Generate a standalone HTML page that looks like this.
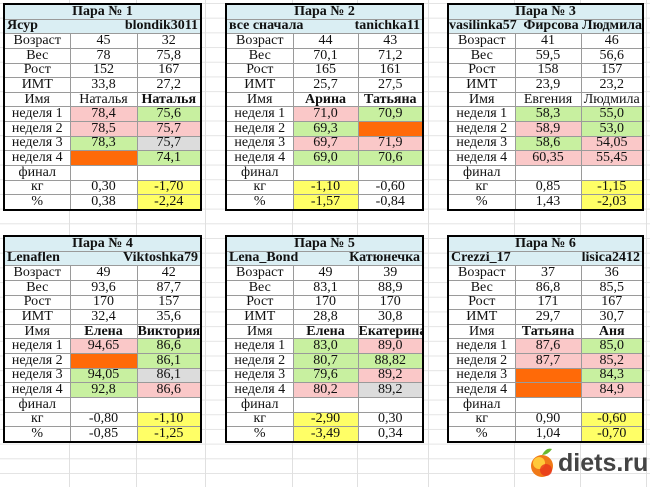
<!DOCTYPE html>
<html><head><meta charset="utf-8"><style>
body{margin:0;width:650px;height:487px;background:#fff;position:relative;overflow:hidden;font-family:"Liberation Serif","DejaVu Serif",serif;}
.grid{position:absolute;inset:0;background-image:linear-gradient(#e4e4e4 1px,transparent 1px);background-size:100% 14.7px;background-position:0 3px}
.vl{position:absolute;top:0;bottom:0;width:1px;background:#e0e0e0}
table{position:absolute;border-collapse:collapse;table-layout:fixed;border:2px solid #000;background:#fff;font-size:14px;line-height:12px;color:#111}
td{border:1px solid #9a9a9a;text-align:center;padding:0;height:12.8px;white-space:nowrap;overflow:hidden}
td.h{background:#daeef3;font-weight:bold;border-color:#9a9a9a}
td.n{background:#daeef3;font-weight:bold;text-align:left;padding:0 2px}
td.n span{float:right}
.b{font-weight:bold}
.p{background:#fac8c8}.g{background:#c8f0a0}.o{background:#ff6a08}.s{background:#dcdcdc}.y{background:#ffff66}
.logo{position:absolute;left:528px;top:448px;font-family:"Liberation Sans",sans-serif;font-size:25px;color:#444;font-weight:bold}
</style></head><body>
<div class="grid"></div>
<div class="vl" style="left:69px"></div><div class="vl" style="left:136px"></div><div class="vl" style="left:205px"></div>
<div class="vl" style="left:292px"></div><div class="vl" style="left:357px"></div><div class="vl" style="left:428px"></div>
<div class="vl" style="left:514px"></div><div class="vl" style="left:580px"></div><div class="vl" style="left:646px"></div>

<table style="left:3px;top:3px;width:199px;height:208px"><colgroup><col style="width:66px"><col style="width:67px"><col></colgroup>
<tr><td class="h" colspan="3">Пара № 1</td></tr>
<tr><td class="n" colspan="3">Ясур<span>blondik3011</span></td></tr>
<tr><td>Возраст</td><td>45</td><td>32</td></tr>
<tr><td>Вес</td><td>78</td><td>75,8</td></tr>
<tr><td>Рост</td><td>152</td><td>167</td></tr>
<tr><td>ИМТ</td><td>33,8</td><td>27,2</td></tr>
<tr><td>Имя</td><td>Наталья</td><td class="b">Наталья</td></tr>
<tr><td>неделя 1</td><td class="p">78,4</td><td class="g">75,6</td></tr>
<tr><td>неделя 2</td><td class="p">78,5</td><td class="p">75,7</td></tr>
<tr><td>неделя 3</td><td class="g">78,3</td><td class="s">75,7</td></tr>
<tr><td>неделя 4</td><td class="o"></td><td class="g">74,1</td></tr>
<tr><td>финал</td><td></td><td></td></tr>
<tr><td>кг</td><td>0,30</td><td class="y">-1,70</td></tr>
<tr><td>%</td><td>0,38</td><td class="y">-2,24</td></tr>
</table>

<table style="left:225px;top:3px;width:199px;height:208px"><colgroup><col style="width:67px"><col style="width:65px"><col></colgroup>
<tr><td class="h" colspan="3">Пара № 2</td></tr>
<tr><td class="n" colspan="3">все сначала<span>tanichka11</span></td></tr>
<tr><td>Возраст</td><td>44</td><td>43</td></tr>
<tr><td>Вес</td><td>70,1</td><td>71,2</td></tr>
<tr><td>Рост</td><td>165</td><td>161</td></tr>
<tr><td>ИМТ</td><td>25,7</td><td>27,5</td></tr>
<tr><td>Имя</td><td class="b">Арина</td><td class="b">Татьяна</td></tr>
<tr><td>неделя 1</td><td class="p">71,0</td><td class="g">70,9</td></tr>
<tr><td>неделя 2</td><td class="g">69,3</td><td class="o"></td></tr>
<tr><td>неделя 3</td><td class="p">69,7</td><td class="p">71,9</td></tr>
<tr><td>неделя 4</td><td class="g">69,0</td><td class="g">70,6</td></tr>
<tr><td>финал</td><td></td><td></td></tr>
<tr><td>кг</td><td class="y">-1,10</td><td>-0,60</td></tr>
<tr><td>%</td><td class="y">-1,57</td><td>-0,84</td></tr>
</table>

<table style="left:447px;top:3px;width:197px;height:208px"><colgroup><col style="width:67px"><col style="width:66px"><col></colgroup>
<tr><td class="h" colspan="3">Пара № 3</td></tr>
<tr><td class="n" colspan="3" style="padding:0">vasilinka57<span>Фирсова Людмила</span></td></tr>
<tr><td>Возраст</td><td>41</td><td>46</td></tr>
<tr><td>Вес</td><td>59,5</td><td>56,6</td></tr>
<tr><td>Рост</td><td>158</td><td>157</td></tr>
<tr><td>ИМТ</td><td>23,9</td><td>23,2</td></tr>
<tr><td>Имя</td><td>Евгения</td><td>Людмила</td></tr>
<tr><td>неделя 1</td><td class="g">58,3</td><td class="g">55,0</td></tr>
<tr><td>неделя 2</td><td class="p">58,9</td><td class="g">53,0</td></tr>
<tr><td>неделя 3</td><td class="g">58,6</td><td class="p">54,05</td></tr>
<tr><td>неделя 4</td><td class="p">60,35</td><td class="p">55,45</td></tr>
<tr><td>финал</td><td></td><td></td></tr>
<tr><td>кг</td><td>0,85</td><td class="y">-1,15</td></tr>
<tr><td>%</td><td>1,43</td><td class="y">-2,03</td></tr>
</table>

<table style="left:3px;top:235px;width:199px;height:208px"><colgroup><col style="width:66px"><col style="width:67px"><col></colgroup>
<tr><td class="h" colspan="3">Пара № 4</td></tr>
<tr><td class="n" colspan="3">Lenaflen<span>Viktoshka79</span></td></tr>
<tr><td>Возраст</td><td>49</td><td>42</td></tr>
<tr><td>Вес</td><td>93,6</td><td>87,7</td></tr>
<tr><td>Рост</td><td>170</td><td>157</td></tr>
<tr><td>ИМТ</td><td>32,4</td><td>35,6</td></tr>
<tr><td>Имя</td><td class="b">Елена</td><td class="b">Виктория</td></tr>
<tr><td>неделя 1</td><td class="p">94,65</td><td class="g">86,6</td></tr>
<tr><td>неделя 2</td><td class="o"></td><td class="g">86,1</td></tr>
<tr><td>неделя 3</td><td class="g">94,05</td><td class="s">86,1</td></tr>
<tr><td>неделя 4</td><td class="g">92,8</td><td class="p">86,6</td></tr>
<tr><td>финал</td><td></td><td></td></tr>
<tr><td>кг</td><td>-0,80</td><td class="y">-1,10</td></tr>
<tr><td>%</td><td>-0,85</td><td class="y">-1,25</td></tr>
</table>

<table style="left:225px;top:235px;width:199px;height:208px"><colgroup><col style="width:67px"><col style="width:65px"><col></colgroup>
<tr><td class="h" colspan="3">Пара № 5</td></tr>
<tr><td class="n" colspan="3">Lena_Bond<span>Катюнечка</span></td></tr>
<tr><td>Возраст</td><td>49</td><td>39</td></tr>
<tr><td>Вес</td><td>83,1</td><td>88,9</td></tr>
<tr><td>Рост</td><td>170</td><td>170</td></tr>
<tr><td>ИМТ</td><td>28,8</td><td>30,8</td></tr>
<tr><td>Имя</td><td class="b">Елена</td><td class="b">Екатерина</td></tr>
<tr><td>неделя 1</td><td class="g">83,0</td><td class="p">89,0</td></tr>
<tr><td>неделя 2</td><td class="g">80,7</td><td class="g">88,82</td></tr>
<tr><td>неделя 3</td><td class="g">79,6</td><td class="p">89,2</td></tr>
<tr><td>неделя 4</td><td class="p">80,2</td><td class="s">89,2</td></tr>
<tr><td>финал</td><td></td><td></td></tr>
<tr><td>кг</td><td class="y">-2,90</td><td>0,30</td></tr>
<tr><td>%</td><td class="y">-3,49</td><td>0,34</td></tr>
</table>

<table style="left:447px;top:235px;width:197px;height:208px"><colgroup><col style="width:67px"><col style="width:66px"><col></colgroup>
<tr><td class="h" colspan="3">Пара № 6</td></tr>
<tr><td class="n" colspan="3">Crezzi_17<span>lisica2412</span></td></tr>
<tr><td>Возраст</td><td>37</td><td>36</td></tr>
<tr><td>Вес</td><td>86,8</td><td>85,5</td></tr>
<tr><td>Рост</td><td>171</td><td>167</td></tr>
<tr><td>ИМТ</td><td>29,7</td><td>30,7</td></tr>
<tr><td>Имя</td><td class="b">Татьяна</td><td class="b">Аня</td></tr>
<tr><td>неделя 1</td><td class="p">87,6</td><td class="g">85,0</td></tr>
<tr><td>неделя 2</td><td class="p">87,7</td><td class="p">85,2</td></tr>
<tr><td>неделя 3</td><td class="o"></td><td class="g">84,3</td></tr>
<tr><td>неделя 4</td><td class="o"></td><td class="p">84,9</td></tr>
<tr><td>финал</td><td></td><td></td></tr>
<tr><td>кг</td><td>0,90</td><td class="y">-0,60</td></tr>
<tr><td>%</td><td>1,04</td><td class="y">-0,70</td></tr>
</table>

<svg style="position:absolute;left:528px;top:447px" width="28" height="32"><path d="M14 8 q4 -8 10 -6 q-4 6 -10 6z" fill="#6ab82e"/><circle cx="14" cy="19" r="11" fill="#f07a18"/><circle cx="11" cy="16" r="6" fill="#ffc93a"/><circle cx="18" cy="23" r="6" fill="#e8341c" opacity=".8"/></svg>
<div class="logo" style="left:558px;top:449px">diets.ru</div>
</body></html>
